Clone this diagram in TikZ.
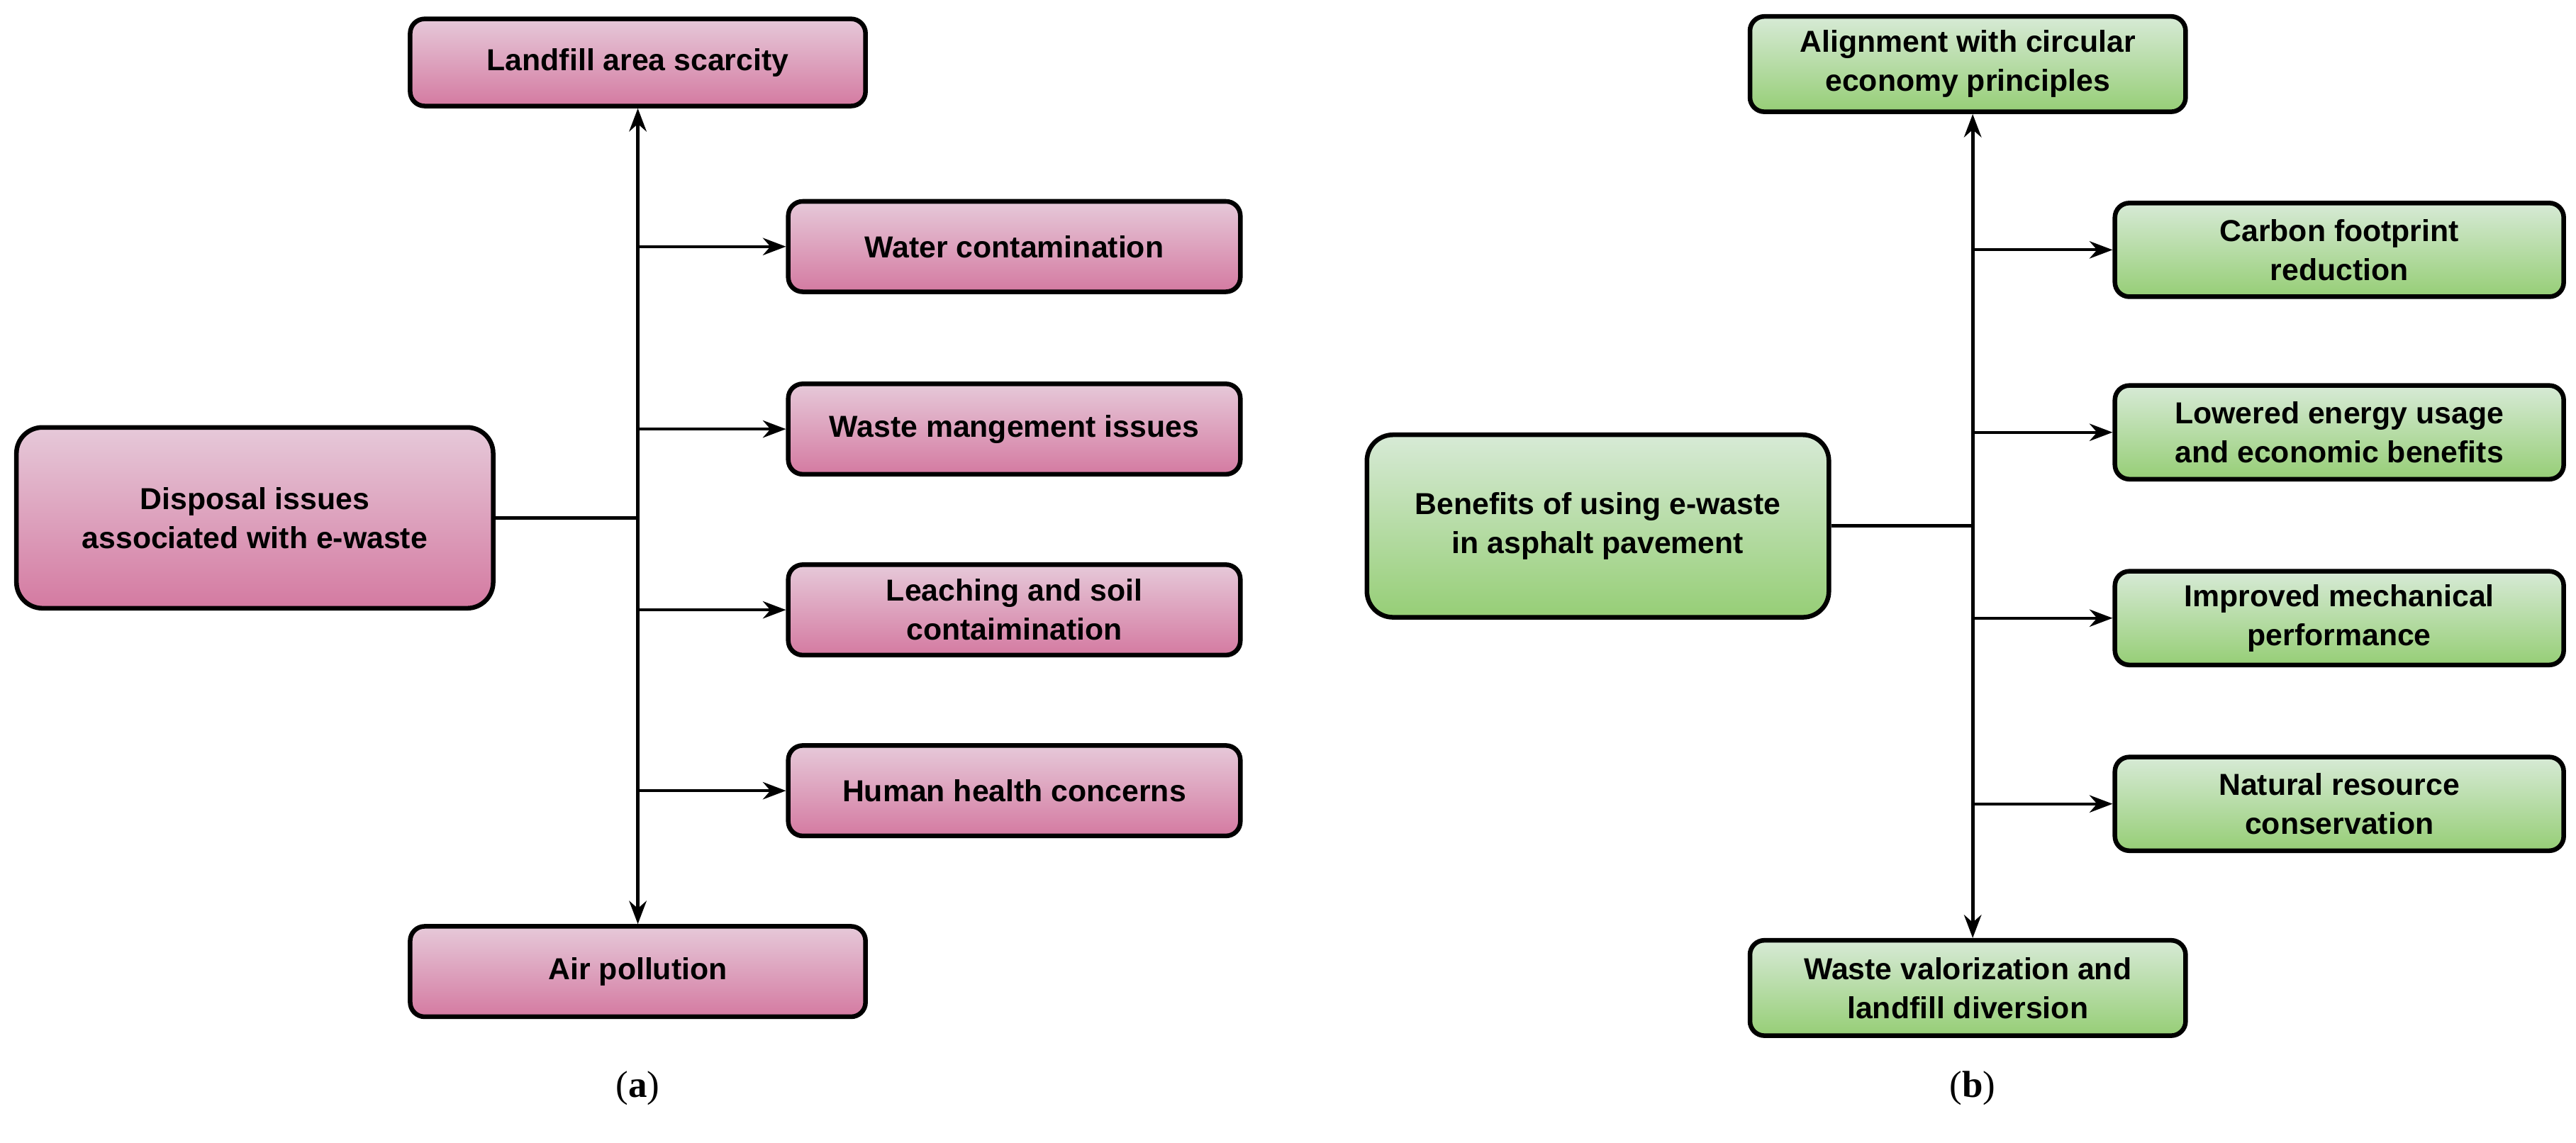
\documentclass[tikz,border=0pt]{standalone}
\usepackage{fontspec}
\setmainfont{Liberation Sans}
\newfontfamily\serifcap{Liberation Serif}
\usetikzlibrary{arrows.meta}
\definecolor{pinkT}{HTML}{E6C9D9}
\definecolor{pinkB}{HTML}{D47AA1}
\definecolor{greenT}{HTML}{D7EAD6}
\definecolor{greenB}{HTML}{96CE76}
\tikzset{
 boxbase/.style={draw=black, line width=1.6pt, rounded corners=5pt, align=center, font=\bfseries\fontsize{10.5}{13.5}\selectfont, inner sep=2pt},
 pinkbox/.style={boxbase, top color=pinkT, bottom color=pinkB},
 greenbox/.style={boxbase, top color=greenT, bottom color=greenB},
 conn/.style={line width=1pt, -{Stealth[length=8pt,width=6pt]}},
 trunk/.style={line width=1.2pt},
 caplbl/.style={font=\serifcap\fontsize{13}{15}\selectfont}
}
\begin{document}
\begin{tikzpicture}[x=0.02cm,y=-0.02cm]
\useasboundingbox (0,0) rectangle (1567,695);
% Left panel
\node[pinkbox, minimum width=277*0.02cm, minimum height=53*0.02cm] (l1) at (388,38) {Landfill area scarcity};
\node[pinkbox, minimum width=275*0.02cm, minimum height=55*0.02cm] (l2) at (617,150) {Water contamination};
\node[pinkbox, minimum width=275*0.02cm, minimum height=55*0.02cm] (l3) at (617,261) {Waste mangement issues};
\node[pinkbox, minimum width=275*0.02cm, minimum height=55*0.02cm] (l4) at (617,371) {Leaching and soil\\contaimination};
\node[pinkbox, minimum width=275*0.02cm, minimum height=55*0.02cm] (l5) at (617,481) {Human health concerns};
\node[pinkbox, minimum width=277*0.02cm, minimum height=55*0.02cm] (l6) at (388,591) {Air pollution};
\node[pinkbox, rounded corners=9pt, minimum width=290*0.02cm, minimum height=110*0.02cm] (lc) at (155,315) {Disposal issues\\associated with e-waste};
\coordinate (lj) at (388,315);
\draw[trunk] (lc.east) -- (lj);
\draw[trunk, -{Stealth[length=8pt,width=6pt]}] (lj) -- (l1.south);
\draw[trunk, -{Stealth[length=8pt,width=6pt]}] (lj) -- (l6.north);
\foreach \n in {l2,l3,l4,l5} \draw[conn] (lj |- \n.west) -- (\n.west);
\node[caplbl] (la) at (388,662) {(\textbf{a})};
% Right panel
\node[greenbox, minimum width=265*0.02cm, minimum height=58*0.02cm] (r1) at (1197,39) {Alignment with circular\\economy principles};
\node[greenbox, minimum width=273*0.02cm, minimum height=57*0.02cm] (r2) at (1423,152) {Carbon footprint\\reduction};
\node[greenbox, minimum width=273*0.02cm, minimum height=57*0.02cm] (r3) at (1423,263) {Lowered energy usage\\and economic benefits};
\node[greenbox, minimum width=273*0.02cm, minimum height=57*0.02cm] (r4) at (1423,376) {Improved mechanical\\performance};
\node[greenbox, minimum width=273*0.02cm, minimum height=57*0.02cm] (r5) at (1423,489) {Natural resource\\conservation};
\node[greenbox, minimum width=265*0.02cm, minimum height=58*0.02cm] (r6) at (1197,601) {Waste valorization and\\landfill diversion};
\node[greenbox, rounded corners=9pt, minimum width=281*0.02cm, minimum height=111*0.02cm] (rc) at (972,320) {Benefits of using e-waste\\in asphalt pavement};
\coordinate (rj) at (1200,320);
\draw[trunk] (rc.east) -- (rj);
\draw[trunk, -{Stealth[length=8pt,width=6pt]}] (rj) -- (r1.south -| rj);
\draw[trunk, -{Stealth[length=8pt,width=6pt]}] (rj) -- (r6.north -| rj);
\foreach \n in {r2,r3,r4,r5} \draw[conn] (rj |- \n.west) -- (\n.west);
\node[caplbl] (rb) at (1200,662) {(\textbf{b})};
\end{tikzpicture}
\end{document}
